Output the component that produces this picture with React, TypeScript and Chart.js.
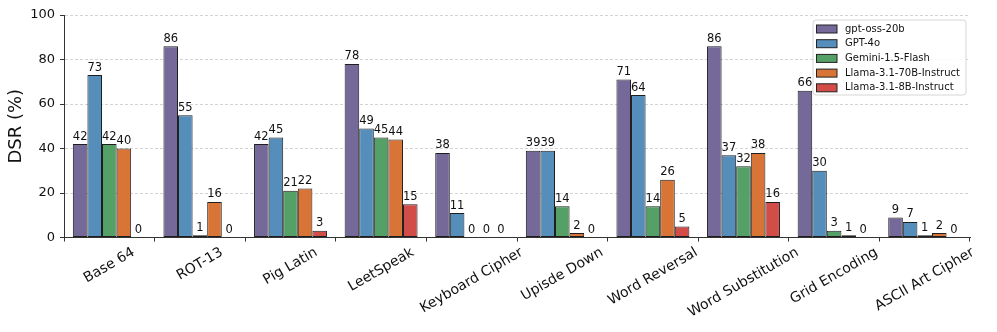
import React, { useEffect, useRef } from "react";
import { Chart, registerables } from "chart.js";

Chart.register(...registerables);

const categories = [
  "Base 64",
  "ROT-13",
  "Pig Latin",
  "LeetSpeak",
  "Keyboard Cipher",
  "Upisde Down",
  "Word Reversal",
  "Word Substitution",
  "Grid Encoding",
  "ASCII Art Cipher",
];

const seriesNames = [
  "gpt-oss-20b",
  "GPT-4o",
  "Gemini-1.5-Flash",
  "Llama-3.1-70B-Instruct",
  "Llama-3.1-8B-Instruct",
];

const gptOss20b = [42, 86, 42, 78, 38, 39, 71, 86, 66, 9];
const gpt4o = [73, 55, 45, 49, 11, 39, 64, 37, 30, 7];
const gemini15Flash = [42, 1, 21, 45, 0, 14, 14, 32, 3, 1];
const llama70b = [40, 16, 22, 44, 0, 2, 26, 38, 1, 2];
const llama8b = [0, 0, 3, 15, 0, 0, 5, 16, 0, 0];

const seriesColors = ["#75699a", "#558ebb", "#55a066", "#d87436", "#d24d48"];

const yTicks = [0, 20, 40, 60, 80, 100];

const FONT = "'DejaVu Sans', sans-serif";

const valueLabelPlugin = {
  id: "valueLabels",
  afterDatasetsDraw(chart: any) {
    const ctx = chart.ctx;
    ctx.save();
    ctx.font = `11.5px ${FONT}`;
    ctx.fillStyle = "#111";
    ctx.textAlign = "center";
    ctx.textBaseline = "alphabetic";
    chart.data.datasets.forEach((ds: any, di: number) => {
      const meta = chart.getDatasetMeta(di);
      meta.data.forEach((bar: any, i: number) => {
        ctx.fillText(String(ds.data[i]), bar.x, bar.y - 4.5);
      });
    });
    ctx.restore();
  },
};

const xLabelPlugin = {
  id: "xLabels",
  afterDraw(chart: any) {
    const ctx = chart.ctx;
    const xs = chart.scales.x;
    const fontSize = 14;
    const angle = Math.PI / 6;
    ctx.save();
    ctx.font = `${fontSize}px ${FONT}`;
    ctx.fillStyle = "#111";
    ctx.textAlign = "center";
    ctx.textBaseline = "middle";
    const top = chart.chartArea.bottom + 7;
    categories.forEach((label, i) => {
      const x = xs.getPixelForValue(i);
      const w = ctx.measureText(label).width;
      const h = fontSize * 1.15;
      const bboxH = w * Math.sin(angle) + h * Math.cos(angle);
      ctx.save();
      ctx.translate(x, top + bboxH / 2);
      ctx.rotate(-angle);
      ctx.fillText(label, 0, 0);
      ctx.restore();
    });
    ctx.restore();
  },
};

const legendPlugin = {
  id: "boxLegend",
  afterDraw(chart: any) {
    const ctx = chart.ctx;
    const x0 = 813;
    const y0 = 20;
    const w = 153;
    const h = 75;
    const r = 3;
    ctx.save();
    ctx.beginPath();
    ctx.moveTo(x0 + r, y0);
    ctx.lineTo(x0 + w - r, y0);
    ctx.arcTo(x0 + w, y0, x0 + w, y0 + r, r);
    ctx.lineTo(x0 + w, y0 + h - r);
    ctx.arcTo(x0 + w, y0 + h, x0 + w - r, y0 + h, r);
    ctx.lineTo(x0 + r, y0 + h);
    ctx.arcTo(x0, y0 + h, x0, y0 + h - r, r);
    ctx.lineTo(x0, y0 + r);
    ctx.arcTo(x0, y0, x0 + r, y0, r);
    ctx.closePath();
    ctx.fillStyle = "rgba(255,255,255,0.85)";
    ctx.fill();
    ctx.strokeStyle = "#d6d6d6";
    ctx.lineWidth = 1;
    ctx.stroke();
    ctx.font = `10px ${FONT}`;
    ctx.textAlign = "left";
    ctx.textBaseline = "middle";
    chart.data.datasets.forEach((ds: any, i: number) => {
      const cy = y0 + 9 + i * 14.7;
      ctx.fillStyle = ds.backgroundColor;
      ctx.fillRect(816.5, cy - 4, 20.5, 8);
      ctx.strokeStyle = "#222";
      ctx.lineWidth = 1;
      ctx.strokeRect(816.5, cy - 4, 20.5, 8);
      ctx.fillStyle = "#111";
      ctx.fillText(ds.label, 845, cy);
    });
    ctx.restore();
  },
};

export default function App() {
  const canvasRef = useRef<HTMLCanvasElement | null>(null);

  useEffect(() => {
    if (!canvasRef.current) return;
    const seriesData = [gptOss20b, gpt4o, gemini15Flash, llama70b, llama8b];
    const chart = new Chart(canvasRef.current, {
      type: "bar",
      data: {
        labels: categories,
        datasets: seriesNames.map((name, i) => ({
          label: name,
          data: seriesData[i],
          backgroundColor: seriesColors[i],
          borderColor: "#1e1e1e",
          borderWidth: 1,
          borderSkipped: false,
          categoryPercentage: 0.805,
          barPercentage: 1,
        })),
      },
      options: {
        animation: false,
        responsive: false,
        maintainAspectRatio: false,
        layout: { padding: { top: 15, right: 27, left: 0, bottom: 0 } },
        plugins: {
          legend: { display: false },
          tooltip: { enabled: false },
        },
        scales: {
          x: {
            type: "category",
            offset: true,
            grid: {
              display: true,
              drawOnChartArea: false,
              drawTicks: true,
              tickLength: 4,
              tickColor: "#333",
              tickWidth: 1,
            },
            border: { display: true, color: "#333", width: 1 },
            ticks: { display: false },
            afterFit(scale: any) {
              scale.height = 94.5;
            },
          },
          y: {
            min: 0,
            max: 100,
            afterBuildTicks(scale: any) {
              scale.ticks = yTicks.map((v) => ({ value: v }));
            },
            grid: {
              color: "#c8c8c8",
              lineWidth: 0.8,
              drawTicks: true,
              tickLength: 4,
              tickColor: "#333",
              tickWidth: 1,
              tickBorderDash: [],
            },
            border: { display: true, color: "#333", width: 1, dash: [3, 2] },
            ticks: {
              padding: 5,
              color: "#111",
              font: { family: FONT, size: 13 },
            },
            title: {
              display: true,
              text: "DSR (%)",
              color: "#111",
              font: { family: FONT, size: 18 },
              padding: { top: 6, bottom: 0 },
            },
            afterFit(scale: any) {
              scale.width = 64;
            },
          },
        },
      },
      plugins: [valueLabelPlugin, xLabelPlugin, legendPlugin],
    });
    return () => chart.destroy();
  }, []);

  return (
    <div style={{ position: "fixed", left: 0, top: 0, width: 997, height: 332, background: "#fff" }}>
      <canvas ref={canvasRef} width={997} height={332} style={{ width: 997, height: 332, display: "block" }} />
    </div>
  );
}
